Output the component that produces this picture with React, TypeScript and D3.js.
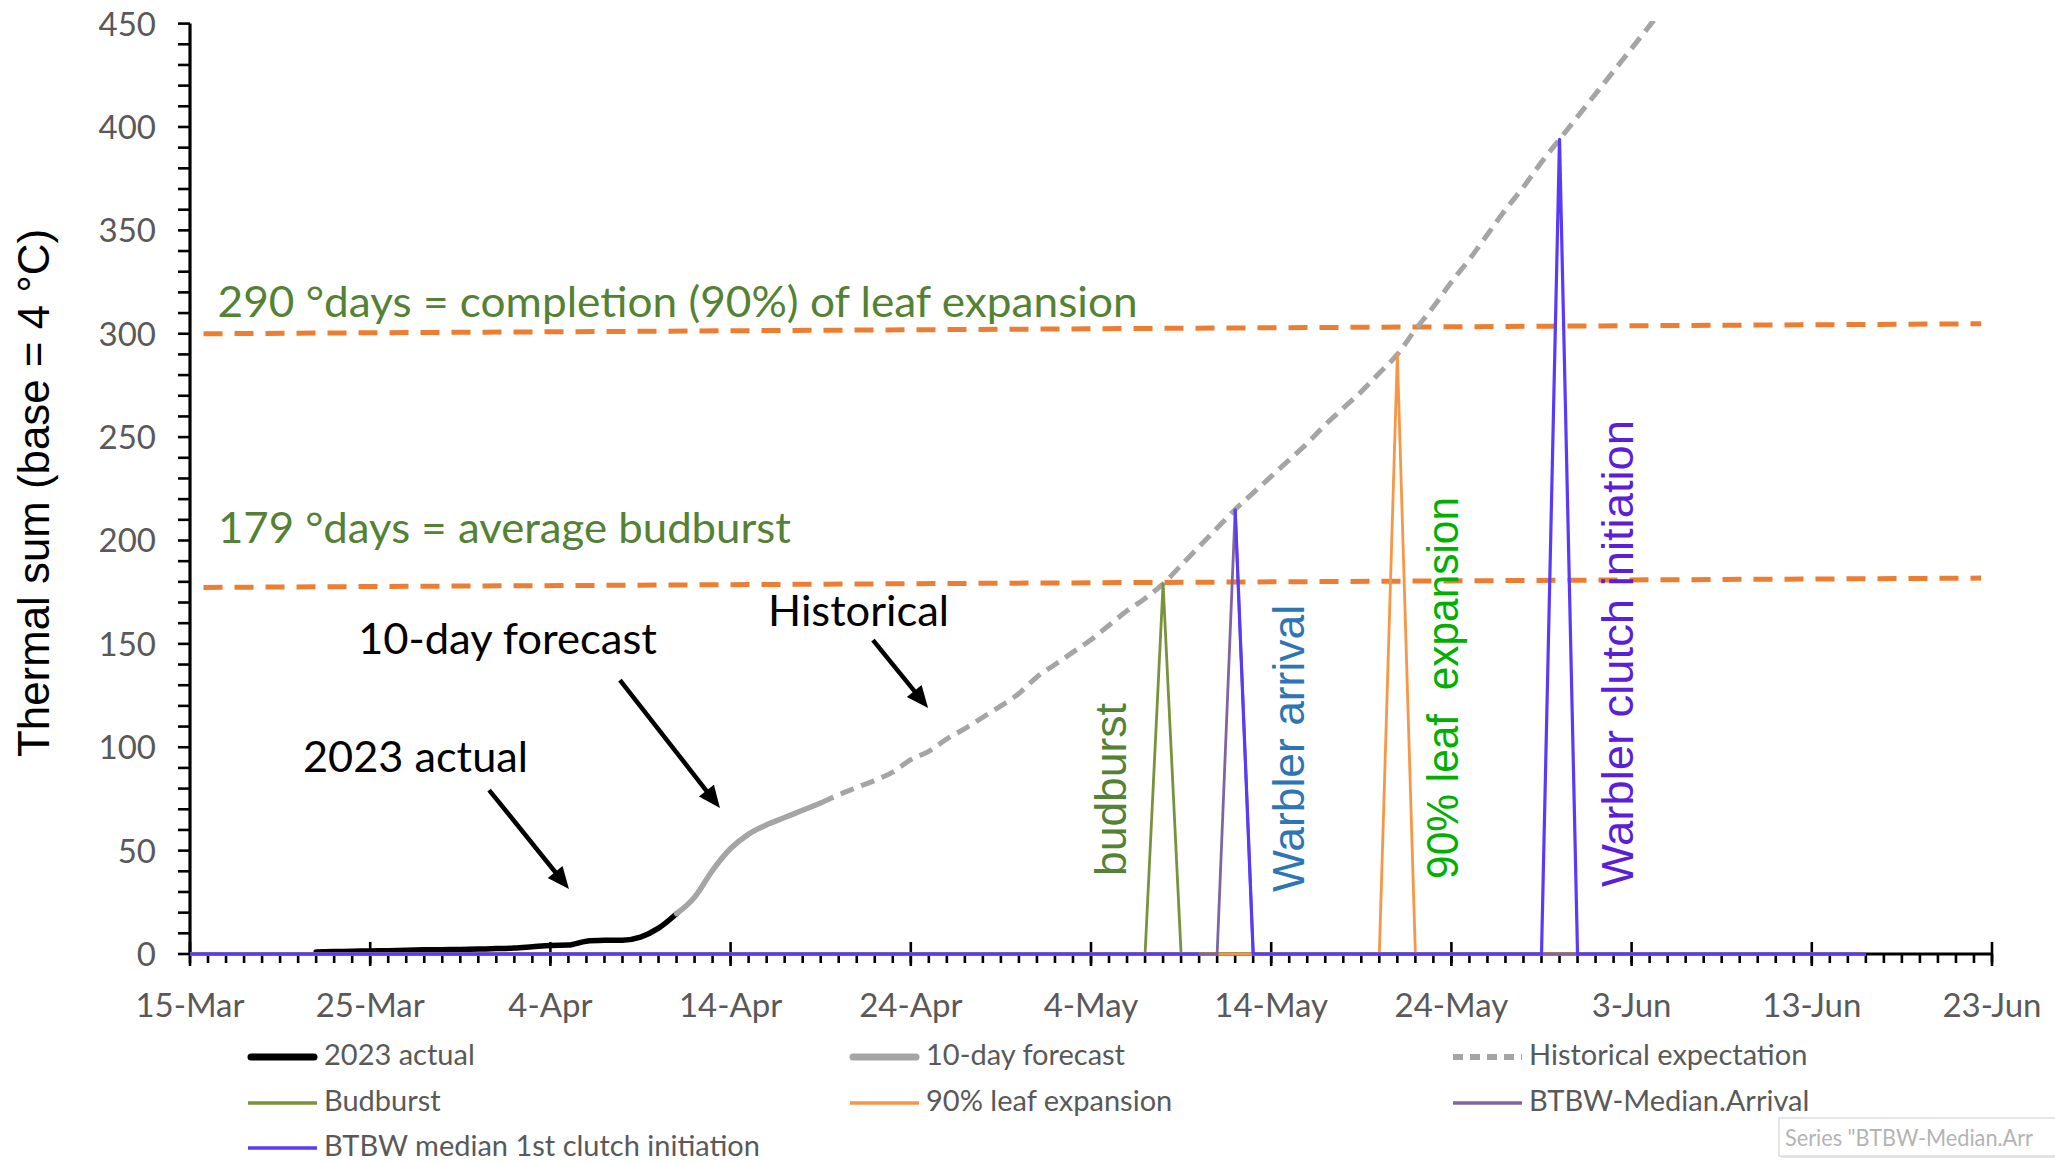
import React, { useEffect } from "react";
import * as d3 from "d3";

const WIDTH = 2055;
const HEIGHT = 1163;

// ---------- axes ----------
const axisStart = "2023-03-15";
const axisEnd = "2023-06-23";
const xTickDates = ["2023-03-15", "2023-03-25", "2023-04-04", "2023-04-14", "2023-04-24", "2023-05-04", "2023-05-14", "2023-05-24", "2023-06-03", "2023-06-13", "2023-06-23"];
const xTickLabels = ["15-Mar", "25-Mar", "4-Apr", "14-Apr", "24-Apr", "4-May", "14-May", "24-May", "3-Jun", "13-Jun", "23-Jun"];
const yTickValues = [0, 50, 100, 150, 200, 250, 300, 350, 400, 450];
const yMax = 450;
const yTitle = "Thermal sum (base = 4 °C)";

// ---------- series (daily values) ----------
const actualStart = "2023-03-22";
const actualValues = [1.0, 1.2, 1.3, 1.5, 1.6, 1.8, 2.0, 2.1, 2.2, 2.4, 2.6, 2.9, 3.5, 4.1, 4.3, 6.2, 6.6, 6.7, 8.2, 12.5, 19.5];

const forecastStart = "2023-04-11";
const forecastValues = [19.5, 27.5, 40.5, 51, 58, 62.5, 66, 69.5, 73];

const historicalStart = "2023-04-19";
const historicalValues = [73, 77, 80.5, 84, 88, 94, 98, 104, 109, 114.5, 120, 126, 134, 140, 146, 152, 159, 166, 172, 179, 188, 197, 206, 215, 223, 231, 239, 247, 256, 264, 272, 281, 290, 302, 313, 325, 336, 348, 360, 371, 383, 394, 405, 416, 427, 438, 449, 460];

const budburstPoints: [string, number | null][] = [["2023-03-15", 0], ["2023-05-07", 0], ["2023-05-08", 179], ["2023-05-09", 0], ["2023-06-16", 0]];
const leafPoints: [string, number | null][] = [["2023-03-15", 0], ["2023-05-20", 0], ["2023-05-21", 290], ["2023-05-22", 0], ["2023-06-16", 0]];
const arrivalPoints: [string, number | null][] = [["2023-03-15", 0], ["2023-05-11", 0], ["2023-05-12", 215], ["2023-05-13", 0], ["2023-06-16", 0]];
const clutchPoints: [string, number | null][] = [["2023-03-15", 0], ["2023-05-10", 0], ["2023-05-11", null], ["2023-05-12", 215], ["2023-05-13", 0], ["2023-05-29", 0], ["2023-05-30", 394], ["2023-05-31", 0], ["2023-06-16", 0]];

// ---------- reference lines (day offset from axis start, value) ----------
const thresholdFrom = [[0.75, 300], [0.75, 177.3]];
const thresholdTo = [[99.4, 304.8], [99.4, 181.8]];

// ---------- annotations ----------
const noteTexts = ["290 °days = completion (90%) of leaf expansion", "179 °days = average budburst", "10-day forecast", "2023 actual", "Historical"];
const notePos = [[1.53, 308.3], [1.55, 198.7], [9.32, 145.1], [6.27, 88.0], [32.08, 158.6]];
const noteColors = ["#548235", "#548235", "#000000", "#000000", "#000000"];
const noteLengths = [920, 573, 299, 225, 181];

const arrowFrom = [[16.6, 79.3], [23.86, 132.5], [37.9, 151.8]];
const arrowTo = [[21.03, 31.4], [29.41, 70.6], [40.96, 119]];

const phaseTexts = ["budburst", "Warbler arrival", "90% leaf  expansion", "Warbler clutch initiation"];
const phasePos = [[51.94, 37.7], [61.82, 30.0], [70.37, 36.3], [80.08, 32.4]];
const phaseColors = ["#548235", "#2E75B6", "#00B000", "#5B1ED9"];
const phaseLengths = [173, 287, 382, 467];

const legendLabels = ["2023 actual", "10-day forecast", "Historical expectation", "Budburst", "90% leaf expansion", "BTBW-Median.Arrival", "BTBW median 1st clutch initiation"];
const tooltipText = 'Series "BTBW-Median.Arr';

const CAL = "Lato, 'Open Sans', sans-serif";
const ARIAL = "'Liberation Sans', Arial, sans-serif";

const seriesStyles = [
  { color: "#000000", width: 5.5, dash: null as string | null, legendWidth: 7, cap: "round" },
  { color: "#A5A5A5", width: 5.5, dash: null, legendWidth: 7, cap: "round" },
  { color: "#A5A5A5", width: 5, dash: "14,8", legendWidth: 6, cap: "butt" },
  { color: "#77933C", width: 2.8, dash: null, legendWidth: 3.5, cap: "butt" },
  { color: "#F79646", width: 2.8, dash: null, legendWidth: 3.5, cap: "butt" },
  { color: "#8064A2", width: 2.8, dash: null, legendWidth: 3.5, cap: "butt" },
  { color: "#5A3AFA", width: 3.2, dash: null, legendWidth: 3.5, cap: "butt" },
];

export default function App() {
  useEffect(() => {
    document.body.style.margin = "0";
  }, []);

  const parse = d3.utcParse("%Y-%m-%d");
  const start = parse(axisStart) as Date;
  const end = parse(axisEnd) as Date;
  const x = d3.scaleUtc().domain([start, end]).range([190, 1992]);
  const y = d3.scaleLinear().domain([0, yMax]).range([954, 23.6]);
  const dayToDate = (d: number) => new Date(start.getTime() + d * 86400000);
  const px = (d: number) => x(dayToDate(d));

  const daily = (s: string, vals: number[]): [Date, number | null][] => {
    const s0 = parse(s) as Date;
    return vals.map((v, i) => [d3.utcDay.offset(s0, i), v]);
  };
  const pts = (arr: [string, number | null][]): [Date, number | null][] => arr.map(([d, v]) => [parse(d) as Date, v]);

  const smooth = d3
    .line<[Date, number | null]>()
    .defined((d) => d[1] != null)
    .x((d) => x(d[0]))
    .y((d) => y(d[1] as number))
    .curve(d3.curveMonotoneX);
  const straight = d3
    .line<[Date, number | null]>()
    .defined((d) => d[1] != null)
    .x((d) => x(d[0]))
    .y((d) => y(d[1] as number));

  const seriesPaths = [
    smooth(daily(actualStart, actualValues)),
    smooth(daily(forecastStart, forecastValues)),
    smooth(daily(historicalStart, historicalValues)),
    straight(pts(budburstPoints)),
    straight(pts(leafPoints)),
    straight(pts(arrivalPoints)),
    straight(pts(clutchPoints)),
  ];

  const minorX = d3.utcDay.range(start, d3.utcDay.offset(end, 1));
  const minorY = d3.range(0, yMax + 1, 10);

  const legendColX = [248, 850, 1453];
  const legendRowY = [1057, 1103, 1148];

  return (
    <svg width={WIDTH} height={HEIGHT} style={{ position: "absolute", left: 0, top: 0, display: "block", background: "#fff" }}>
      <defs>
        <clipPath id="plot">
          <rect x={185} y={21} width={1815} height={945} />
        </clipPath>
      </defs>
      <rect x={0} y={0} width={WIDTH} height={HEIGHT} fill="#ffffff" />

      {/* threshold dashed lines */}
      {thresholdFrom.map((f, i) => (
        <line
          key={"th" + i}
          x1={px(f[0])}
          y1={y(f[1])}
          x2={px(thresholdTo[i][0])}
          y2={y(thresholdTo[i][1])}
          stroke="#ED7D31"
          strokeWidth={5}
          strokeDasharray="19,12"
        />
      ))}

      {/* axes */}
      <g stroke="#000" strokeWidth={2.6}>
        {minorY.map((v) => (
          <line key={"yt" + v} x1={178} x2={190} y1={y(v)} y2={y(v)} />
        ))}
        {minorX.map((d, i) => (
          <line key={"xm" + i} x1={x(d)} x2={x(d)} y1={954} y2={963} />
        ))}
        {xTickDates.map((s) => {
          const d = parse(s) as Date;
          return <line key={"xM" + s} x1={x(d)} x2={x(d)} y1={942} y2={966} />;
        })}
      </g>
      <line x1={190} x2={190} y1={y(yMax)} y2={955} stroke="#000" strokeWidth={3.2} />
      <line x1={189} x2={1993} y1={954} y2={954} stroke="#000" strokeWidth={3.2} />

      {/* series */}
      <g clipPath="url(#plot)" fill="none" strokeLinejoin="round">
        {seriesPaths.map((p, i) => (
          <path
            key={"s" + i}
            d={p || ""}
            stroke={seriesStyles[i].color}
            strokeWidth={seriesStyles[i].width}
            strokeDasharray={seriesStyles[i].dash || undefined}
            strokeLinecap={i < 2 ? "round" : "butt"}
          />
        ))}
      </g>

      {/* tick labels */}
      <g fontFamily={CAL} fill="#595959" fontSize={33}>
        {yTickValues.map((v) => (
          <text key={"yl" + v} x={156} y={y(v) + 12} textAnchor="end">
            {v}
          </text>
        ))}
        {xTickDates.map((s, i) => (
          <text key={"xl" + s} x={x(parse(s) as Date)} y={1017} textAnchor="middle">
            {xTickLabels[i]}
          </text>
        ))}
      </g>

      {/* y title */}
      <text
        transform={`translate(49,493) rotate(-90)`}
        textAnchor="middle"
        fontFamily={ARIAL}
        fontSize={44}
        fill="#000"
        textLength={528}
        lengthAdjust="spacingAndGlyphs"
      >
        {yTitle}
      </text>

      {/* annotations */}
      {noteTexts.map((t, i) => (
        <text
          key={"n" + i}
          x={px(notePos[i][0])}
          y={y(notePos[i][1])}
          fontFamily={CAL}
          fontSize={43}
          fill={noteColors[i]}
          textLength={noteLengths[i]}
          lengthAdjust="spacingAndGlyphs"
        >
          {t}
        </text>
      ))}

      {arrowFrom.map((f, i) => {
        const x1 = px(f[0]);
        const y1 = y(f[1]);
        const x2 = px(arrowTo[i][0]);
        const y2 = y(arrowTo[i][1]);
        const len = Math.hypot(x2 - x1, y2 - y1);
        const ux = (x2 - x1) / len;
        const uy = (y2 - y1) / len;
        const hl = 22;
        const hw = 9.5;
        const bx = x2 - ux * hl;
        const by = y2 - uy * hl;
        const head = `M${x2},${y2} L${bx - uy * hw},${by + ux * hw} L${bx + uy * hw},${by - ux * hw} Z`;
        return (
          <g key={"a" + i}>
            <line x1={x1} y1={y1} x2={bx + ux * 2} y2={by + uy * 2} stroke="#000" strokeWidth={4.5} />
            <path d={head} fill="#000" />
          </g>
        );
      })}

      {phaseTexts.map((t, i) => (
        <text
          key={"p" + i}
          transform={`translate(${px(phasePos[i][0])},${y(phasePos[i][1])}) rotate(-90)`}
          fontFamily={ARIAL}
          fontSize={44}
          fill={phaseColors[i]}
          textLength={phaseLengths[i]}
          lengthAdjust="spacingAndGlyphs"
          style={{ whiteSpace: "pre" }}
        >
          {t}
        </text>
      ))}

      {/* legend */}
      {legendLabels.map((lab, i) => {
        const cx = legendColX[i % 3];
        const cy = legendRowY[Math.floor(i / 3)];
        const st = seriesStyles[i];
        return (
          <g key={"lg" + i}>
            <line
              x1={cx + (st.cap === "round" ? 3 : 0)}
              x2={cx + 69 - (st.cap === "round" ? 3 : 0)}
              y1={cy}
              y2={cy}
              stroke={st.color}
              strokeWidth={st.legendWidth}
              strokeLinecap={st.cap as any}
              strokeDasharray={i === 2 ? "10,7" : undefined}
            />
            <text x={cx + 76} y={cy + 8} fontFamily={CAL} fontSize={29} fill="#595959">
              {lab}
            </text>
          </g>
        );
      })}

      {/* tooltip remnant */}
      <rect x={1781} y={1120} width={274} height={38} fill="#E8E8E8" />
      <rect x={1779} y={1118} width={300} height={38} fill="#ffffff" stroke="#D6D6D6" strokeWidth={1.2} />
      <text x={1785} y={1146} fontFamily={CAL} fontSize={23} fill="#B4B4B4" textLength={248} lengthAdjust="spacingAndGlyphs">
        {tooltipText}
      </text>
    </svg>
  );
}
